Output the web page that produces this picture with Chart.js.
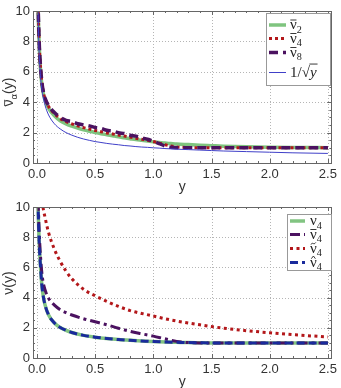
<!DOCTYPE html>
<html>
<head>
<meta charset="utf-8">
<script src="https://cdn.jsdelivr.net/npm/chart.js@4.4.1/dist/chart.umd.min.js"></script>
<style>
  body { margin: 0; background: #fff; }
  .box { width: 341px; height: 194px; }
  canvas { display: block; }
</style>
</head>
<body>
<div class="box"><canvas id="topChart" width="341" height="194"></canvas></div>
<div class="box"><canvas id="bottomChart" width="341" height="194"></canvas></div>
<script>
// tick labels (shared by both panels)
const xTicks = [0, 0.5, 1, 1.5, 2, 2.5];
const yTicks = [0, 2, 4, 6, 8, 10];

// top panel: nu-bar_alpha(y)
const yTop = [0.008, 0.01, 0.015, 0.02, 0.03, 0.04, 0.05, 0.07, 0.1, 0.15, 0.2, 0.25, 0.3, 0.35, 0.4, 0.45, 0.5,
  0.55, 0.6, 0.65, 0.7, 0.75, 0.8, 0.85, 0.9, 0.95, 1.0, 1.05, 1.1, 1.15, 1.2, 1.3, 1.4, 1.5, 1.6, 1.8, 2.0, 2.2, 2.5];
const nuBar2 = [11.4, 10.2, 8.7, 7.6, 6.2, 5.3, 4.75, 4.1, 3.6, 3.1, 2.78, 2.57, 2.42, 2.29, 2.18, 2.09, 2.01,
  1.93, 1.86, 1.79, 1.72, 1.66, 1.6, 1.54, 1.49, 1.44, 1.39, 1.35, 1.31, 1.28, 1.25, 1.21, 1.17, 1.14, 1.11, 1.07, 1.04, 1.02, 1.01];
const nuBar4 = [11.6, 10.4, 8.9, 7.75, 6.35, 5.45, 4.85, 4.2, 3.72, 3.25, 2.92, 2.72, 2.57, 2.44, 2.33, 2.23, 2.14,
  2.06, 1.98, 1.91, 1.84, 1.77, 1.7, 1.63, 1.56, 1.49, 1.41, 1.31, 1.2, 1.12, 1.06, 1.02, 1.0, 1.0, 1.0, 1.0, 1.0, 1.0, 1.0];
const nuBar8 = [11.7, 10.5, 9.0, 7.8, 6.4, 5.5, 4.9, 4.25, 3.78, 3.32, 3.0, 2.8, 2.73, 2.58, 2.51, 2.44, 2.33,
  2.28, 2.15, 2.11, 1.99, 1.94, 1.83, 1.77, 1.66, 1.56, 1.43, 1.28, 1.12, 1.03, 1.0, 1.0, 1.0, 1.0, 1.0, 1.0, 1.0, 1.0, 1.0];
const invSqrt = [11.18, 10.0, 8.16, 7.07, 5.77, 5.0, 4.47, 3.78, 3.16, 2.58, 2.24, 2.0, 1.83, 1.69, 1.58, 1.49, 1.41,
  1.35, 1.29, 1.24, 1.2, 1.15, 1.12, 1.08, 1.05, 1.03, 1.0, 0.98, 0.95, 0.93, 0.91, 0.88, 0.85, 0.82, 0.79, 0.75, 0.71, 0.67, 0.63];
const topLabels = ['ν̄_2', 'ν̄_4', 'ν̄_8', '1/√y'];

// bottom panel: nu(y)
const yBottom = [0.008, 0.01, 0.015, 0.02, 0.03, 0.04, 0.05, 0.07, 0.1, 0.15, 0.2, 0.25, 0.3, 0.4, 0.5, 0.6, 0.7,
  0.8, 0.9, 1.0, 1.1, 1.2, 1.3, 1.4, 1.5, 1.75, 2.0, 2.25, 2.5];
const nu4 = [11.3, 10.1, 8.6, 7.5, 6.1, 5.0, 4.3, 3.5, 2.85, 2.32, 2.02, 1.83, 1.69, 1.5, 1.38, 1.29, 1.22,
  1.17, 1.13, 1.09, 1.06, 1.04, 1.02, 1.01, 1.0, 1.0, 1.0, 1.0, 1.0];
const nuBar4b = [11.8, 10.6, 9.2, 8.2, 6.8, 5.8, 5.15, 4.5, 3.95, 3.5, 3.2, 3.0, 2.85, 2.6, 2.4, 2.2, 1.97,
  1.76, 1.6, 1.45, 1.27, 1.1, 1.02, 1.0, 1.0, 1.0, 1.0, 1.0, 1.0];
const nuTilde4 = [16, 15, 14, 13, 11.8, 10.9, 10.1, 9.3, 8.3, 7.2, 6.4, 5.75, 5.25, 4.55, 4.12, 3.75, 3.42,
  3.14, 2.95, 2.78, 2.6, 2.45, 2.32, 2.2, 2.08, 1.85, 1.67, 1.52, 1.39];
const nuHat4 = [11.3, 10.1, 8.6, 7.5, 6.1, 5.0, 4.3, 3.5, 2.85, 2.32, 2.02, 1.83, 1.69, 1.5, 1.38, 1.29, 1.22,
  1.17, 1.13, 1.09, 1.06, 1.04, 1.02, 1.01, 1.0, 1.0, 1.0, 1.0, 1.0];
const bottomLabels = ['ν_4', 'ν̄_4', 'ν̃_4', 'ν̂_4'];

const SANS = '"Liberation Sans", Arial, sans-serif';
const SERIF = '"Liberation Serif", "DejaVu Serif", serif';

function toPoints(xs, ys) {
  return xs.map((x, i) => ({ x, y: ys[i] }));
}

// accents drawn by hand so they sit right over the nu
function drawAccent(ctx, mark, cx, y, w, sz) {
  ctx.save();
  ctx.strokeStyle = ctx.fillStyle;
  ctx.lineWidth = Math.max(0.8, sz * 0.06);
  const ya = y - sz * 0.6;
  ctx.beginPath();
  if (mark === '\u0304') {
    ctx.moveTo(cx - w * 0.45, ya);
    ctx.lineTo(cx + w * 0.45, ya);
  } else if (mark === '\u0303') {
    const h = sz * 0.07;
    ctx.moveTo(cx - w * 0.35, ya + h);
    ctx.bezierCurveTo(cx - w * 0.15, ya - 2 * h, cx + w * 0.05, ya + 2 * h, cx + w * 0.35, ya - h);
  } else if (mark === '\u0302') {
    ctx.moveTo(cx - w * 0.3, ya + sz * 0.08);
    ctx.lineTo(cx, ya - sz * 0.1);
    ctx.lineTo(cx + w * 0.3, ya + sz * 0.08);
  }
  ctx.stroke();
  ctx.restore();
}

function drawChars(ctx, str, x, y, sz) {
  for (let i = 0; i < str.length; i++) {
    const c = str[i];
    const next = str[i + 1];
    ctx.fillText(c, x, y);
    const w = ctx.measureText(c).width;
    if (next && /[\u0300-\u036f]/.test(next)) {
      drawAccent(ctx, next, x + w / 2, y, w, sz);
      i++;
    }
    x += w;
  }
  return x;
}

// draws text with "_c" subscripts and an optional radical overline, returns end x
function drawRich(ctx, s, x, y, size, family) {
  const segs = [];
  let buf = '';
  for (let k = 0; k < s.length; k++) {
    if (s[k] === '_') {
      if (buf) segs.push({ t: buf, sub: false });
      buf = '';
      segs.push({ t: s[k + 1], sub: true });
      k++;
    } else {
      buf += s[k];
    }
  }
  if (buf) segs.push({ t: buf, sub: false });

  segs.forEach((seg) => {
    const sz = seg.sub ? size * 0.68 : size;
    const dy = seg.sub ? size * 0.26 : 0;
    ctx.font = `${sz}px ${family}`;
    const root = seg.t.indexOf('√');
    if (root >= 0) {
      const head = seg.t.slice(0, root + 1);
      const tail = seg.t.slice(root + 1);
      x = drawChars(ctx, head, x, y + dy, sz);
      ctx.font = `italic ${sz}px ${family}`;
      ctx.fillText(tail, x, y + dy);
      const w = ctx.measureText(tail).width;
      ctx.save();
      ctx.strokeStyle = ctx.fillStyle;
      ctx.lineWidth = 0.9;
      ctx.beginPath();
      ctx.moveTo(x - 0.5, y - sz * 0.83);
      ctx.lineTo(x + w + 1, y - sz * 0.83);
      ctx.stroke();
      ctx.restore();
      x += w;
    } else {
      x = drawChars(ctx, seg.t, x, y + dy, sz);
    }
  });
  return x;
}

function richWidth(ctx, s, size, family) {
  ctx.save();
  ctx.globalAlpha = 0;
  const w = drawRich(ctx, s, 0, 0, size, family);
  ctx.restore();
  return w;
}

const framePlugin = {
  id: 'frame',
  beforeDatasetsDraw(chart) {
    const { ctx, chartArea: a, scales } = chart;
    ctx.save();
    ctx.strokeStyle = '#b5b5b5';
    ctx.lineWidth = 1;
    ctx.setLineDash([1, 2]);
    xTicks.forEach((v) => {
      const px = Math.round(scales.x.getPixelForValue(v)) + 0.5;
      ctx.beginPath();
      ctx.moveTo(px, a.top);
      ctx.lineTo(px, a.bottom);
      ctx.stroke();
    });
    yTicks.slice(1, -1).forEach((v) => {
      const py = Math.round(scales.y.getPixelForValue(v)) + 0.5;
      ctx.beginPath();
      ctx.moveTo(a.left, py);
      ctx.lineTo(a.right, py);
      ctx.stroke();
    });
    ctx.restore();
  },
  afterDatasetsDraw(chart, args, opts) {
    const { ctx, chartArea: a, scales } = chart;
    ctx.save();
    ctx.strokeStyle = '#666';
    ctx.lineWidth = 1;
    ctx.setLineDash([]);

    // inward ticks on all four sides
    const tick = (px, len, horiz) => {
      ctx.beginPath();
      if (horiz) {
        ctx.moveTo(px, a.bottom); ctx.lineTo(px, a.bottom - len);
        ctx.moveTo(px, a.top); ctx.lineTo(px, a.top + len);
      } else {
        ctx.moveTo(a.left, px); ctx.lineTo(a.left + len, px);
        ctx.moveTo(a.right, px); ctx.lineTo(a.right - len, px);
      }
      ctx.stroke();
    };
    for (let i = 0; i < xTicks.length; i++) {
      tick(Math.round(scales.x.getPixelForValue(xTicks[i])) + 0.5, 4, true);
      if (i < xTicks.length - 1) {
        const step = (xTicks[i + 1] - xTicks[i]) / 5;
        for (let j = 1; j < 5; j++) tick(Math.round(scales.x.getPixelForValue(xTicks[i] + j * step)) + 0.5, 2, true);
      }
    }
    for (let i = 0; i < yTicks.length; i++) {
      tick(Math.round(scales.y.getPixelForValue(yTicks[i])) + 0.5, 4, false);
      if (i < yTicks.length - 1) {
        const step = (yTicks[i + 1] - yTicks[i]) / 4;
        for (let j = 1; j < 4; j++) tick(Math.round(scales.y.getPixelForValue(yTicks[i] + j * step)) + 0.5, 2, false);
      }
    }
    ctx.strokeRect(Math.round(a.left) + 0.5, Math.round(a.top) + 0.5,
      Math.round(a.right - a.left), Math.round(a.bottom - a.top));

    // axis titles
    ctx.fillStyle = '#333';
    ctx.textBaseline = 'middle';
    ctx.textAlign = 'center';
    ctx.font = `14px ${SANS}`;
    ctx.fillText('y', (a.left + a.right) / 2, opts.xTitleY);

    ctx.textAlign = 'left';
    ctx.textBaseline = 'alphabetic';
    ctx.save();
    ctx.translate(8, opts.yTitleY);
    ctx.rotate(-Math.PI / 2);
    const tw = richWidth(ctx, opts.yTitle, 14, SANS);
    drawRich(ctx, opts.yTitle, -tw / 2, 5, 14, SANS);
    ctx.restore();

    // legend box
    const lg = opts.legend;
    ctx.fillStyle = '#fff';
    ctx.fillRect(lg.box[0], lg.box[1], lg.box[2], lg.box[3]);
    ctx.strokeStyle = '#999';
    ctx.strokeRect(lg.box[0] + 0.5, lg.box[1] + 0.5, lg.box[2], lg.box[3]);
    chart.data.datasets.forEach((ds, i) => {
      const ry = lg.rows[i];
      ctx.save();
      ctx.strokeStyle = ds.borderColor;
      ctx.lineWidth = ds.borderWidth;
      ctx.setLineDash(ds.borderDash || []);
      ctx.beginPath();
      ctx.moveTo(lg.lineX[0], ry);
      ctx.lineTo(lg.lineX[1], ry);
      ctx.stroke();
      ctx.restore();
      ctx.fillStyle = '#222';
      drawRich(ctx, ds.label, lg.textX, ry + 4, 15, SERIF);
    });
    ctx.restore();
  },
};

function makeScales(xHeight) {
  return {
    x: {
      type: 'linear',
      min: -0.034,
      max: 2.53,
      grid: { display: false, drawTicks: false },
      border: { display: false },
      afterBuildTicks: (scale) => { scale.ticks = xTicks.map((v) => ({ value: v })); },
      afterFit: (scale) => { scale.height = xHeight; },
      ticks: {
        padding: 4,
        maxRotation: 0,
        autoSkip: false,
        color: '#333',
        font: { family: SANS, size: 13 },
        callback: (v) => v.toFixed(1),
      },
    },
    y: {
      type: 'linear',
      min: 0,
      max: 10,
      grid: { display: false, drawTicks: false },
      border: { display: false },
      afterBuildTicks: (scale) => { scale.ticks = yTicks.map((v) => ({ value: v })); },
      afterFit: (scale) => { scale.width = 33; },
      ticks: {
        padding: 3,
        autoSkip: false,
        color: '#333',
        font: { family: SANS, size: 13 },
        callback: (v) => String(v),
      },
    },
  };
}

function line(label, xs, ys, color, width, dash, order) {
  return {
    label,
    data: toPoints(xs, ys),
    borderColor: color,
    borderWidth: width,
    borderDash: dash,
    pointRadius: 0,
    fill: false,
    cubicInterpolationMode: 'monotone',
    clip: 0,
    order,
  };
}

function makeChart(id, datasets, padTop, xHeight, frameOpts) {
  return new Chart(document.getElementById(id), {
    type: 'line',
    data: { datasets },
    options: {
      responsive: false,
      animation: false,
      devicePixelRatio: 1,
      layout: { padding: { top: padTop, right: 8, left: 0, bottom: 0 } },
      plugins: { legend: { display: false }, tooltip: { enabled: false }, frame: frameOpts },
      scales: makeScales(xHeight),
    },
    plugins: [framePlugin],
  });
}

makeChart('topChart', [
  line(topLabels[0], yTop, nuBar2, '#7fc47f', 3.5, [], 3),
  line(topLabels[1], yTop, nuBar4, '#b3171a', 3, [3, 3], 2),
  line(topLabels[2], yTop, nuBar8, '#4b1260', 3.5, [9, 5], 1),
  line(topLabels[3], yTop, invSqrt, '#4040c8', 1, [], 0),
], 11, 31, {
  xTitleY: 187,
  yTitleY: 92,
  yTitle: 'ν̄_α(y)',
  legend: { box: [266, 13, 64, 72], rows: [25, 38.5, 52.5, 72.5], lineX: [269, 286], textX: 290 },
});

makeChart('bottomChart', [
  line(bottomLabels[0], yBottom, nu4, '#82c482', 3.5, [], 3),
  line(bottomLabels[1], yBottom, nuBar4b, '#4b1260', 3, [10, 4, 3, 4], 1),
  line(bottomLabels[2], yBottom, nuTilde4, '#b3171a', 3, [3, 3.5], 2),
  line(bottomLabels[3], yBottom, nuHat4, '#1a2a9c', 3, [8, 4], 0),
], 13, 30, {
  xTitleY: 188,
  yTitleY: 89,
  yTitle: 'ν(y)',
  legend: { box: [287, 20, 44, 56], rows: [27, 40.5, 54.5, 68.5], lineX: [290, 305], textX: 310 },
});
</script>
</body>
</html>
